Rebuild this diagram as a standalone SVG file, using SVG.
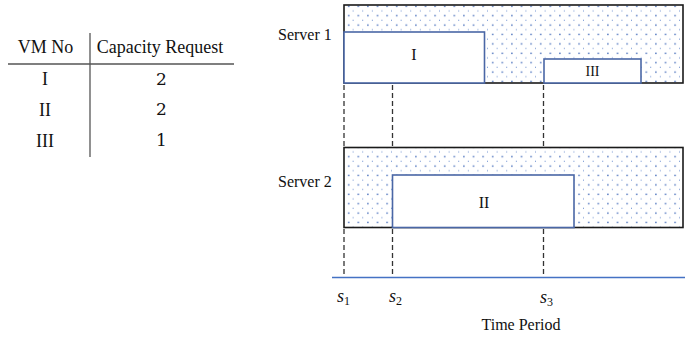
<svg xmlns="http://www.w3.org/2000/svg" width="685" height="337" viewBox="0 0 685 337">
<defs>
<pattern id="dots" x="344" y="5" width="9.6" height="9.4" patternUnits="userSpaceOnUse">
<rect x="4" y="0.6" width="1.4" height="1.4" fill="#3f68b8"/>
<rect x="8.8" y="5.3" width="1.3" height="1.3" fill="#6f90d0"/>
</pattern>
<style>
.t{font-family:"Liberation Serif","Times New Roman",serif;fill:#111}
.tab{font-size:18px}
.num{font-family:"DejaVu Serif",serif;font-size:17px;fill:#111}
.lbl{font-size:16px}
.box{fill:url(#dots);stroke:#1a1a1a;stroke-width:1.6}
.blk{fill:#fff;stroke:#4a67a6;stroke-width:1.6}
.dash{stroke:#333;stroke-width:1.3;stroke-dasharray:5,3;fill:none}
.it{font-style:italic}
.s{font-size:18px}
</style>
</defs>

<g id="table">
<line x1="8" y1="64" x2="234" y2="64" stroke="#555" stroke-width="1.3"/>
<line x1="90" y1="33" x2="90" y2="157" stroke="#555" stroke-width="1.3"/>
<text class="t tab" x="45.5" y="53" text-anchor="middle">VM No</text>
<text class="t tab" x="160" y="53" text-anchor="middle">Capacity Request</text>
<text class="t tab" x="45" y="85" text-anchor="middle">I</text>
<text class="t tab" x="45" y="116" text-anchor="middle">II</text>
<text class="t tab" x="45" y="147" text-anchor="middle">III</text>
<text class="num" x="161.5" y="85" text-anchor="middle">2</text>
<text class="num" x="161.5" y="115" text-anchor="middle">2</text>
<text class="num" x="161.5" y="146" text-anchor="middle">1</text>
</g>

<g id="server1">
<rect class="box" x="344" y="5" width="339" height="78"/>
<text class="t lbl" x="278" y="40">Server 1</text>
</g>
<g id="vm1">
<rect class="blk" x="344" y="32" width="140.5" height="51"/>
<text class="t lbl" x="414" y="60" text-anchor="middle">I</text>
</g>
<g id="vm3">
<rect class="blk" x="544" y="59" width="97" height="24"/>
<text class="t" x="592.5" y="76" text-anchor="middle" font-size="14">III</text>
</g>

<g id="server2">
<rect class="box" x="344" y="147.5" width="339" height="80"/>
<text class="t lbl" x="278" y="187">Server 2</text>
</g>
<g id="vm2">
<rect class="blk" x="392.5" y="175" width="181.5" height="52.5"/>
<text class="t lbl" x="484" y="208" text-anchor="middle">II</text>
</g>

<g id="connectors">
<line class="dash" x1="344" y1="85" x2="344" y2="147"/>
<line class="dash" x1="392.5" y1="85" x2="392.5" y2="147"/>
<line class="dash" x1="543.5" y1="85" x2="543.5" y2="147"/>
<line class="dash" x1="344" y1="229" x2="344" y2="277"/>
<line class="dash" x1="392.5" y1="229" x2="392.5" y2="277"/>
<line class="dash" x1="543.5" y1="229" x2="543.5" y2="277"/>
<line x1="332" y1="277.5" x2="685" y2="277.5" stroke="#4472c4" stroke-width="1.5"/>
</g>

<g id="axis-labels">
<text class="t s" x="337" y="302"><tspan class="it">s</tspan><tspan font-size="12" dy="3">1</tspan></text>
<text class="t s" x="389" y="302"><tspan class="it">s</tspan><tspan font-size="12" dy="3">2</tspan></text>
<text class="t s" x="540" y="303"><tspan class="it">s</tspan><tspan font-size="12" dy="3">3</tspan></text>
<text class="t lbl" x="521" y="330" text-anchor="middle">Time Period</text>
</g>
</svg>
